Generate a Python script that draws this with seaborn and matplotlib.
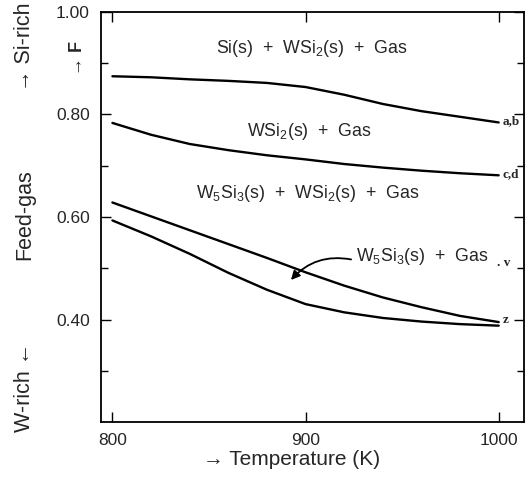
import numpy as np
import pandas as pd
import matplotlib
matplotlib.use("Agg")
import matplotlib.pyplot as plt
import seaborn as sns

# ---- data ----
temps = [800, 820, 840, 860, 880, 900, 920, 940, 960, 980, 1000]
f_ab = [0.874, 0.872, 0.868, 0.865, 0.861, 0.853, 0.838, 0.820, 0.806, 0.795, 0.784]
f_cd = [0.783, 0.760, 0.742, 0.730, 0.720, 0.712, 0.703, 0.696, 0.690, 0.685, 0.681]
f_v = [0.628, 0.601, 0.574, 0.547, 0.520, 0.492, 0.466, 0.443, 0.424, 0.407, 0.395]
f_z = [0.593, 0.562, 0.528, 0.491, 0.458, 0.430, 0.414, 0.403, 0.396, 0.391, 0.388]
curve_names = ["a,b", "c,d", "v", "z"]

df = pd.DataFrame({
    "T": temps * 4,
    "F": f_ab + f_cd + f_v + f_z,
    "curve": sum([[n] * len(temps) for n in curve_names], []),
})

sns.set_style("ticks")
plt.rcParams["font.family"] = ["Liberation Sans", "DejaVu Sans"]
plt.rcParams["mathtext.fontset"] = "custom"
plt.rcParams["mathtext.rm"] = "Liberation Sans"
plt.rcParams["mathtext.it"] = "Liberation Sans"
plt.rcParams["mathtext.bf"] = "Liberation Sans:bold"

fig = plt.figure(figsize=(5.28, 4.83), dpi=100)
ax = fig.add_axes([0.191, 0.126, 0.801, 0.85])

for name in curve_names:
    sns.lineplot(data=df[df["curve"] == name], x="T", y="F", ax=ax,
                 color="black", linewidth=1.7, legend=False,
                 solid_joinstyle="round", solid_capstyle="round")

ax.set_xlim(794, 1013)
ax.set_ylim(0.2, 1.0)
ax.set_xticks([800, 900, 1000])
ax.set_xticklabels(["800", "900", "1000"], fontsize=12.5)
ax.set_yticks([0.4, 0.6, 0.8, 1.0])
ax.set_yticklabels(["0.40", "0.60", "0.80", "1.00"], fontsize=12.5)
ax.set_yticks([0.3, 0.5, 0.7, 0.9], minor=True)
ax.tick_params(which="major", direction="in", top=True, right=True,
               length=7, width=1, color="black", pad=8)
ax.tick_params(which="minor", direction="in", top=True, right=True,
               length=5, width=1, color="black")
for sp in ax.spines.values():
    sp.set_linewidth(1.3)
    sp.set_color("black")

ax.set_xlabel("")
ax.set_ylabel("")

# region labels
rfs = 12.8
ax.text(903, 0.929, "Si(s)  +  WSi$_2$(s)  +  Gas", ha="center", va="center", fontsize=rfs)
ax.text(902, 0.766, "WSi$_2$(s)  +  Gas", ha="center", va="center", fontsize=rfs)
ax.text(901, 0.646, "W$_5$Si$_3$(s)  +  WSi$_2$(s)  +  Gas", ha="center", va="center", fontsize=rfs)
ax.text(926, 0.522, "W$_5$Si$_3$(s)  +  Gas", ha="left", va="center", fontsize=rfs)
ax.annotate("", xy=(891.5, 0.473), xytext=(925, 0.516),
            arrowprops=dict(arrowstyle="-|>", color="black", lw=1.3,
                            connectionstyle="arc3,rad=0.3", mutation_scale=13))

# curve tags
tag_font = dict(family="Liberation Serif", fontsize=9.5, fontweight="bold", va="center")
ax.text(1002, 0.786, "a,b", **tag_font)
ax.text(1002, 0.683, "c,d", **tag_font)
ax.text(999, 0.510, ". v", **tag_font)
ax.text(1002, 0.399, "z", **tag_font)

# axis annotations
fig.text(0.553, 0.048, "\u2192 Temperature (K)", ha="center", va="center", fontsize=15)
fig.text(0.047, 0.903, "\u2192 Si-rich", rotation=90, ha="center", va="center", fontsize=15.5)
fig.text(0.047, 0.555, "Feed-gas", rotation=90, ha="center", va="center", fontsize=15.5)
fig.text(0.047, 0.198, "W-rich \u2190", rotation=90, ha="center", va="center", fontsize=15.5)
fig.text(0.146, 0.88, "\u2192 F", rotation=90, ha="center", va="center", fontsize=13, fontweight="bold")

fig.savefig("out.png", dpi=100)
